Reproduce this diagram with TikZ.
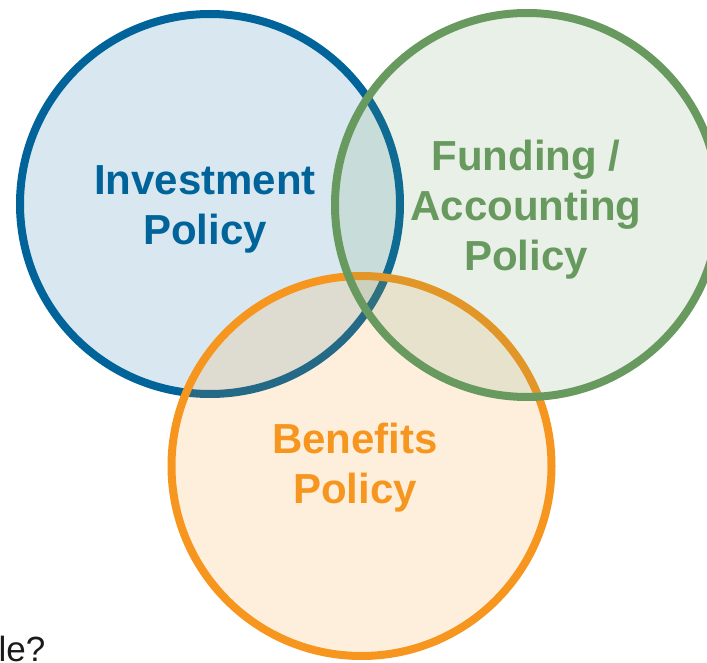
\documentclass[tikz,border=0pt]{standalone}
\usepackage{fontspec}
\setmainfont{Liberation Sans}
\definecolor{invblue}{RGB}{0,99,154}
\definecolor{fundgreen}{RGB}{104,153,95}
\definecolor{benorange}{RGB}{247,150,30}
\definecolor{qgray}{RGB}{26,26,26}
\begin{document}
\begin{tikzpicture}[x=1pt,y=-1pt,
  venn/.style={line width=8pt, fill opacity=0.15},
  setlabel/.style={font=\fontsize{42}{50}\selectfont\bfseries, align=center}]
\useasboundingbox (0,0) rectangle (707,663);

% Circles
\draw[venn, draw=invblue, fill=invblue] (210,204) circle (190pt);
\draw[venn, draw=benorange, fill=benorange] (361.5,466) circle (190pt);
\draw[venn, draw=fundgreen, fill=fundgreen] (527,205) circle (192pt);

% Labels
\node[setlabel, text=invblue] (invest) at (205,209.5) {Investment\\Policy};
\node[setlabel, text=fundgreen] (fund) at (526,209.5) {Funding /\\Accounting\\Policy};
\node[setlabel, text=benorange] (benef) at (355,467.5) {Benefits\\Policy};

% Cut-off question
\node[anchor=base west, inner sep=0pt, text=qgray,
  font=\fontsize{35}{40}\selectfont] (quest) at (-1.5,661) {le?};
\end{tikzpicture}
\end{document}
